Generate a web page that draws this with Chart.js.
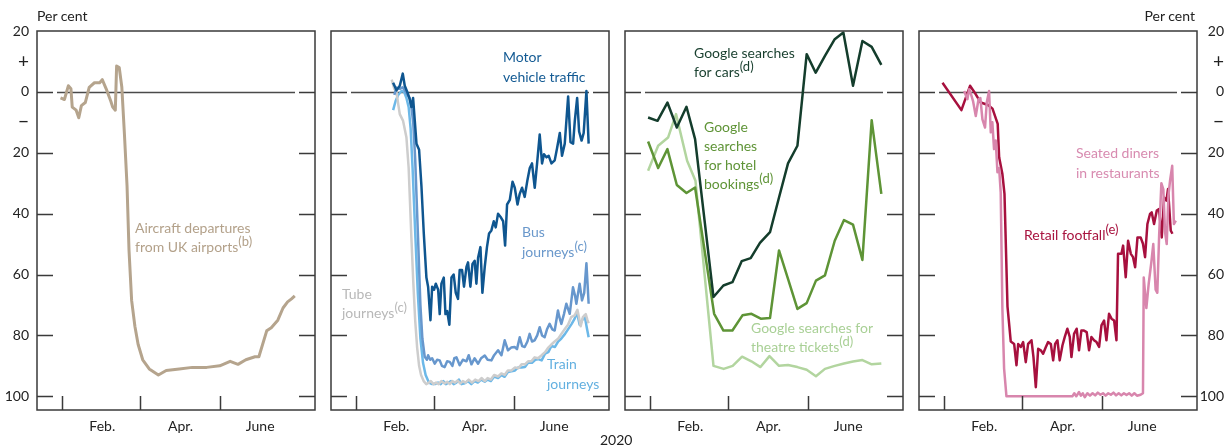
<!DOCTYPE html>
<html>
<head>
<meta charset="utf-8">
<script src="https://cdn.jsdelivr.net/npm/chart.js@4.4.1/dist/chart.umd.min.js"></script>
<style>
  body { margin: 0; width: 1231px; height: 448px; background: #fff; position: relative; overflow: hidden; font-family: Lato, sans-serif; }
  canvas { position: absolute; top: 0; }
  .lbl { position: absolute; font-size: 14px; line-height: 19px; white-space: nowrap; }
  .lbl sup { font-size: 13px; vertical-align: 6px; line-height: 0; }
  .axis-note { position: absolute; font-size: 14px; color: #222; white-space: nowrap; }
</style>
</head>
<body>
<canvas id="p1" width="320" height="448" style="left:0px"></canvas>
<canvas id="p2" width="298" height="448" style="left:321px"></canvas>
<canvas id="p3" width="298" height="448" style="left:615px"></canvas>
<canvas id="p4" width="322" height="448" style="left:909px"></canvas>

<div class="axis-note" style="left:37px; top:7px;">Per cent</div>
<div class="axis-note" style="right:36px; top:7px;">Per cent</div>
<div class="axis-note" style="left:600px; top:431px;">2020</div>

<div class="lbl" style="left:135px; top:218px; color:#b3a18a;">Aircraft departures<br>from UK airports<sup>(b)</sup></div>
<div class="lbl" style="left:503px; top:47px; color:#135a93; line-height:20px;">Motor<br>vehicle traffic</div>
<div class="lbl" style="left:522px; top:222px; color:#6a98cb; line-height:20px;">Bus<br>journeys<sup>(c)</sup></div>
<div class="lbl" style="left:342px; top:284px; color:#b8b8b8;">Tube<br>journeys<sup>(c)</sup></div>
<div class="lbl" style="left:547px; top:354px; color:#63b0e0; line-height:20px;">Train<br>journeys</div>
<div class="lbl" style="left:694px; top:43px; color:#183f2e;">Google searches<br>for cars<sup>(d)</sup></div>
<div class="lbl" style="left:704px; top:117px; color:#5f9437;">Google<br>searches<br>for hotel<br>bookings<sup>(d)</sup></div>
<div class="lbl" style="left:751px; top:318px; color:#a9d096;">Google searches for<br>theatre tickets<sup>(d)</sup></div>
<div class="lbl" style="left:1076px; top:143px; color:#d88bb0; line-height:20px;">Seated diners<br>in restaurants</div>
<div class="lbl" style="left:1024px; top:225px; color:#a8133f;">Retail footfall<sup>(e)</sup></div>

<script>
// x = days since 1 Jan 2020, y = per cent change (negative = fall)
const xMarkDays = [0, 60, 121];
const xLabelDays = [31, 91, 152];
const xLabelNames = ['Feb.', 'Apr.', 'June'];
const yLabelValues = [20, 10, 0, -10, -20, -40, -60, -80, -100];
const yLabelText = ['20', '+', '0', '\u2212', '20', '40', '60', '80', '100'];
const yMarkValues = [0, -20, -40, -60, -80, -100];

const aircraftDepartures = [[-1,-2],[2,-2.5],[5,2],[7,1],[8,-5],[11,-6],[13,-8.5],[15,-4.5],[18,-3.5],[21,1.5],
  [25,3],[29,3],[31,4],[34,1],[37.5,-3],[39,-5],[41,-6],[42,8.5],[44,8],[46,1.5],
  [48,-14],[50,-31],[51.5,-52],[53.5,-68.5],[56,-77],[58.5,-83],[62,-88],[67,-91],[74,-93],[80,-91.5],
  [90,-91],[100,-90.5],[111,-90.5],[121,-90],[129,-88.5],[135,-89.5],[141,-88],[148,-87],[151,-87],[157,-78.5],
  [160.5,-77.5],[165.5,-75],[169.5,-71],[173,-69],[176,-68],[178.5,-67]];

const motorTraffic = [[28.6,3],[31.2,0.5],[33.7,2],[36,6],[37.5,2],[39.6,-0.2],[41.3,-2.4],[42.6,-5],[43.9,-2],[45.2,-9.5],
  [46.5,-17],[48.5,-19],[50.3,-31],[52.1,-46.5],[54.1,-61],[55.4,-64],[57.2,-75],[58.5,-64],[60,-65],[61.3,-63],
  [63.1,-65],[64.3,-73],[65.6,-63],[67.4,-61],[68.7,-73],[70,-72],[71.7,-76.5],[73.3,-61],[75,-60],[76.6,-66],
  [78.3,-68],[79.6,-58.5],[81.4,-58.5],[82.9,-64],[84.8,-57.5],[86,-56],[87.8,-64],[89.4,-56.5],[91.1,-55.5],[92.4,-63],
  [93.7,-54.5],[95.5,-51],[97,-66],[98.8,-57.5],[100.5,-51],[102.1,-46.5],[103.9,-45.5],[105.7,-42.5],[107.2,-44.5],[109,-40],
  [110.8,-41],[112.9,-42.5],[114.4,-50.5],[115.9,-37],[118,-35.5],[120.1,-29.5],[121.8,-31.5],[123.9,-37],[125.6,-33.5],[127.4,-31.5],
  [129.4,-34.5],[131.5,-29],[133.3,-25],[135,-23.5],[137.1,-31.5],[138.9,-23.5],[140.9,-14],[142.7,-23.5],[144.2,-20.5],[146.1,-21.5],
  [147.8,-21],[149.9,-23.5],[152.4,-22.5],[154.2,-18.5],[156.3,-13.5],[158,-21],[160.1,-17],[162.7,-1.5],[164.5,-16.5],[166.5,-17],
  [167.8,-9.5],[169.6,-2],[171.1,-13],[173,-16],[174.6,-13.5],[176.7,0.3],[178.4,-17]];

const busJourneys = [[29.5,-1],[31.2,1.4],[33.7,1],[35.8,1.5],[37.5,0.5],[39.6,-1],[41.3,-2],[42.6,-5],[44,-10],[45.5,-22],
  [47.7,-48],[49.5,-70],[51,-81],[52.8,-87],[54.5,-88],[55.4,-86.5],[57,-88],[58.5,-87.5],[60.5,-89.3],[62.3,-88],
  [64.3,-88.2],[66,-90],[68.1,-90.4],[70,-88.5],[72,-88.7],[74,-90],[75.5,-87.5],[77.1,-87.2],[79.6,-89.8],[82,-88],
  [84.8,-88.5],[86.5,-86.5],[88.6,-89.5],[91,-87.5],[93.7,-89.3],[96,-87.5],[98.8,-86.6],[101,-88],[103.9,-88.2],[106,-86.5],
  [109,-84.9],[111.6,-86.5],[114.1,-81.6],[116.6,-84.9],[119,-84],[121.7,-83.8],[123.5,-84.5],[125.6,-80.6],[127.5,-83.5],[129.4,-83.8],
  [131.5,-82],[133.2,-79.5],[135,-82],[137,-81.6],[139,-80],[140.9,-77.3],[142.7,-80],[144.7,-80.6],[146.5,-78],[148.5,-76.2],
  [150.5,-78],[152.4,-78.4],[154.9,-71.8],[156,-74],[157.5,-76.2],[159.5,-73],[161.3,-69.6],[163.9,-72.9],[166.4,-64.2],[168,-67],
  [169,-69.6],[171.5,-63],[173.3,-68.5],[175,-66],[176.7,-56.3],[178.4,-69.6]];

const trainJourneys = [[28.6,-6],[30.5,-3],[32.5,-1],[35,0.3],[37,0],[38.8,-2],[40.5,-5],[42,-12],[43.5,-25],[45.7,-48],
  [47.5,-66],[49.5,-81],[51.5,-89],[53.5,-93],[56,-95.5],[58.5,-96],[60.7,-96],[63,-95.5],[65,-96],[67,-95],
  [69,-96],[71,-95.5],[73,-95],[75,-96],[77,-95.5],[79,-94.5],[81,-96],[83.5,-95.7],[86,-95],[88.5,-96],
  [91,-95],[93.5,-95.5],[96,-94.5],[98.8,-95.2],[101,-94.5],[103.5,-95],[106,-93.5],[109,-94],[111.5,-93],[114,-93.6],
  [116.5,-92],[119.2,-91.8],[122,-91.5],[124.5,-90.5],[127,-90.5],[129.6,-90.4],[132,-89],[135,-89],[137.5,-88],[139.6,-87.8],
  [142.4,-88.2],[145,-86],[147.5,-85.5],[149.8,-83.5],[152.6,-83.8],[155,-82],[157.5,-81],[160.3,-79.5],[162.6,-78],[165.4,-76.2],
  [167.7,-74.5],[169.5,-72.5],[171.5,-76.5],[173.5,-75],[175.3,-73.5],[177,-77.5],[178.4,-80.6]];

const tubeJourneys = [[27.5,4],[29.5,1],[31.2,0],[32.5,-4],[33.7,-7.3],[36.2,-9.5],[38.8,-15],[40.5,-25],[42.6,-48],[44,-62],
  [45.5,-75],[47,-84],[48.5,-90],[50,-93],[52,-95],[54,-96],[56,-95.5],[57.5,-95],[59.5,-96],[61.5,-95.5],
  [63.5,-96],[65.5,-95],[68,-95.8],[70,-95.2],[72,-96],[74,-95],[76,-95.5],[78,-94.8],[80,-95.8],[82,-95],
  [84,-95.5],[86.5,-94.5],[89,-95.5],[91.5,-94.5],[94,-95],[96.5,-94],[98.8,-95],[101,-94],[103.5,-94.5],[106,-93],
  [109,-93.5],[111.5,-92.5],[114,-93],[116.5,-91.5],[119.2,-91.5],[122,-90.5],[124.5,-90.8],[127,-89.5],[129.6,-89.5],[132,-88.5],
  [134.5,-88.5],[137,-87.2],[139.6,-87.5],[142.4,-86.5],[145,-85.5],[147.5,-84],[149.8,-83],[152.4,-82],[155.2,-81],[157.5,-79.5],
  [160,-78],[162.6,-76.5],[165,-74],[167.7,-73.4],[169.8,-71.6],[171,-74],[172.3,-77],[174,-74],[176.2,-73],[177.5,-75],[178.4,-76]];

const carSearches = [[-1.3,-8.4],[5.9,-9.5],[13.5,-3.5],[20.7,-11.7],[28.1,-4.9],[34.7,-15.5],[48.8,-67.4],[56.4,-63.6],[63.3,-62.5],[70.4,-55.6],
  [77.3,-54.6],[84.4,-49.6],[92.1,-46.1],[99,-34.7],[105.9,-23.5],[113.1,-17.7],[120.2,12.4],[127.1,6.3],[134.2,11.8],[141.7,17.3],
  [148.3,19.5],[155.7,2],[162.9,16.7],[170,14.8],[177.4,8.9]];

const hotelSearches = [[-1.3,-16.3],[6.4,-25],[13.5,-18.8],[20.7,-30.6],[28.1,-33.2],[34.7,-31.4],[49.3,-72.9],[56.4,-78.4],[63.3,-78.4],[71,-73.4],
  [77.9,-72.9],[85,-74.5],[92.1,-74.3],[99,-52.1],[105.9,-61.4],[113.1,-71.3],[120.2,-69.4],[127.3,-62],[134.2,-60.3],[141.7,-48.9],
  [148.8,-42.1],[155.7,-43.6],[162.9,-55.2],[170,-9.3],[177.4,-33.5]];

const theatreSearches = [[-1.3,-25.9],[6.4,-17.7],[14,-15],[20.1,-7.3],[28.6,-22.6],[35,-29.2],[48.8,-90],[56.6,-91],[63.5,-90],[70.7,-87],
  [77.8,-88.5],[84.8,-90.4],[91.7,-86.8],[99,-90],[105.9,-89.7],[113.1,-90.4],[120.2,-91.3],[127.3,-93.4],[134.2,-91],[141.7,-90],
  [148.8,-89.2],[155.7,-88.6],[162.9,-88.1],[170,-89.5],[177.4,-89.2]];

const retailFootfall = [[-1,3],[13.5,-6],[20.1,2],[24.5,-0.8],[28.3,-3.5],[33.9,-4.3],[37.3,-5.5],[41.3,-10.5],[42.4,-21.5],[44.9,-27],
  [46.5,-33.5],[48.8,-70.5],[50,-76],[51.3,-82],[53.9,-82.8],[55.7,-89.8],[57,-82.8],[59,-83.8],[60.8,-82.2],[62.8,-88.8],
  [64.6,-82.8],[67.2,-81.6],[68.7,-87.1],[70.5,-97],[72.3,-84.4],[74.3,-84.9],[76.1,-86],[78.2,-83.8],[79.9,-82.2],[82,-82.8],
  [83.8,-88.2],[85.3,-82.8],[87.1,-81.6],[88.8,-88.2],[90.9,-83.3],[92.7,-80.5],[94.7,-77.8],[96.5,-80.5],[97.8,-87.1],[99.8,-79.5],
  [101.8,-77.8],[103.6,-84.9],[105.4,-78.4],[107.4,-78.4],[109.5,-78.9],[111.3,-84.9],[113.1,-80.5],[115.1,-81.6],[117,-82.2],[119,-83.8],
  [120.8,-76.7],[122.8,-75.1],[124.6,-81.6],[126.6,-72.9],[128.5,-74.5],[130.5,-75.1],[132.3,-81.6],[133.5,-53.2],[136.1,-53.2],[137.4,-50.5],
  [139.4,-60.9],[141.2,-48.9],[143.3,-53.2],[145,-54.3],[146.6,-57.6],[148.4,-47.8],[150.8,-47.8],[152.6,-49.9],[154.2,-54.3],[156,-43.4],
  [158,-40.1],[159.3,-39.6],[161.1,-43.4],[163.2,-39],[164.9,-38.5],[167,-47.8],[168.8,-34.7],[170.6,-35.7],[171.8,-31.9],[173.9,-45.6],[175.2,-46.6]];

const seatedDiners = [[15.6,0.3],[18.1,-2.4],[19.4,0.9],[21,-1],[22.4,-3],[24.5,-7.9],[26.6,-2.4],[28,-2],[29.6,-9],[31.6,-11.7],
  [32.9,-3.5],[34.7,0.3],[36,-13.3],[37.2,-10],[38.5,-18.8],[39.8,-16],[41.1,-26.4],[42.4,-25],[43.6,-33],[44.9,-71.3],
  [46.2,-90.9],[48,-100],[70,-100],[98.5,-100],[100,-99],[101.5,-100],[103.6,-98.6],[105,-99.8],[106.5,-99],[108,-100.3],
  [110,-99],[112,-99.8],[114,-99],[116,-99.7],[118,-98.8],[120,-99.5],[122,-99],[124,-99.8],[126,-99],[128,-99.5],
  [130,-98.8],[132,-99.7],[134,-99],[136,-99.7],[138,-99],[140,-99.6],[142,-99],[144,-99.8],[146,-99],[148,-99.8],
  [150.8,-99.5],[152.6,-99],[153.2,-61],[155.2,-71],[157,-63],[159,-56],[160.5,-50],[162.3,-65],[163.6,-66],[165,-47],
  [166.7,-30],[168.2,-32],[169.5,-46],[170.8,-50],[172.1,-34],[173.4,-29],[175,-24.3],[176.3,-43.4],[177.8,-42.3]];

const TICK = 16;
const framePlugin = {
  id: 'frame',
  beforeDatasetsDraw(chart) {
    const { ctx, chartArea: a, scales: { y } } = chart;
    const y0 = Math.round(y.getPixelForValue(0)) + 0.5;
    ctx.save();
    ctx.strokeStyle = '#4a4a4a';
    ctx.lineWidth = 1.3;
    ctx.beginPath();
    ctx.moveTo(a.left + TICK + 4, y0);
    ctx.lineTo(a.right - TICK - 4, y0);
    ctx.stroke();
    ctx.restore();
  },
  afterDatasetsDraw(chart) {
    const { ctx, chartArea: a, scales: { x, y } } = chart;
    ctx.save();
    ctx.strokeStyle = '#3a3a3a';
    ctx.lineWidth = 1.5;
    ctx.strokeRect(a.left, a.top, a.right - a.left, a.bottom - a.top);
    ctx.beginPath();
    yMarkValues.forEach(v => {
      const py = Math.round(y.getPixelForValue(v)) + 0.5;
      ctx.moveTo(a.left, py); ctx.lineTo(a.left + TICK, py);
      ctx.moveTo(a.right, py); ctx.lineTo(a.right - TICK, py);
    });
    xMarkDays.forEach(d => {
      const px = Math.round(x.getPixelForValue(d)) + 0.5;
      ctx.moveTo(px, a.bottom); ctx.lineTo(px, a.bottom - 14);
    });
    ctx.stroke();
    ctx.restore();
  }
};

function makePanel(id, pad, yPos, yWidth, series) {
  const ctx = document.getElementById(id).getContext('2d');
  return new Chart(ctx, {
    type: 'line',
    data: {
      datasets: series.map(s => ({
        data: s.points.map(p => ({ x: p[0], y: p[1] })),
        borderColor: s.color,
        borderWidth: s.width || 2.5,
        pointRadius: 0,
        tension: 0,
        fill: false,
        borderJoinStyle: 'round'
      }))
    },
    options: {
      responsive: false,
      animation: false,
      events: [],
      layout: { padding: { left: pad[0], right: pad[1], top: 31, bottom: 0 } },
      plugins: { legend: { display: false }, tooltip: { enabled: false } },
      scales: {
        x: {
          type: 'linear', min: -19, max: 194,
          grid: { display: false, drawTicks: false },
          border: { display: false },
          afterBuildTicks: s => { s.ticks = xLabelDays.map(v => ({ value: v })); },
          afterFit: s => { s.height = 38; },
          ticks: {
            autoSkip: false, maxRotation: 0, padding: 8, color: '#222',
            font: { family: 'Lato', size: 14 },
            callback: v => xLabelNames[xLabelDays.indexOf(v)] || ''
          }
        },
        y: {
          display: yPos !== null,
          position: yPos || 'left',
          min: -104.5, max: 20,
          grid: { display: false, drawTicks: false },
          border: { display: false },
          afterBuildTicks: s => { s.ticks = yLabelValues.map(v => ({ value: v })); },
          afterFit: s => { s.width = yWidth; },
          ticks: {
            autoSkip: false, padding: 8, color: '#222',
            crossAlign: yPos === 'right' ? 'far' : 'near',
            font: c => ({ family: 'Lato', size: (c.tick && Math.abs(c.tick.value) === 10) ? 19 : 14 }),
            callback: v => yLabelText[yLabelValues.indexOf(v)]
          }
        }
      }
    },
    plugins: [framePlugin]
  });
}

makePanel('p1', [0, 5], 'left', 37, [
  { points: aircraftDepartures, color: '#b5a48d', width: 3 }
]);
makePanel('p2', [10, 10], null, 0, [
  { points: motorTraffic, color: '#0f5690' },
  { points: busJourneys, color: '#6797cd' },
  { points: tubeJourneys, color: '#cdcdcd' },
  { points: trainJourneys, color: '#6cb8e8' }
]);
makePanel('p3', [10, 10], null, 0, [
  { points: carSearches, color: '#143d2c' },
  { points: hotelSearches, color: '#5e9436' },
  { points: theatreSearches, color: '#b2d59f' }
]);
makePanel('p4', [10, 7], 'right', 27, [
  { points: seatedDiners, color: '#d886ad' },
  { points: retailFootfall, color: '#a7103e' }
]);
</script>
</body>
</html>
